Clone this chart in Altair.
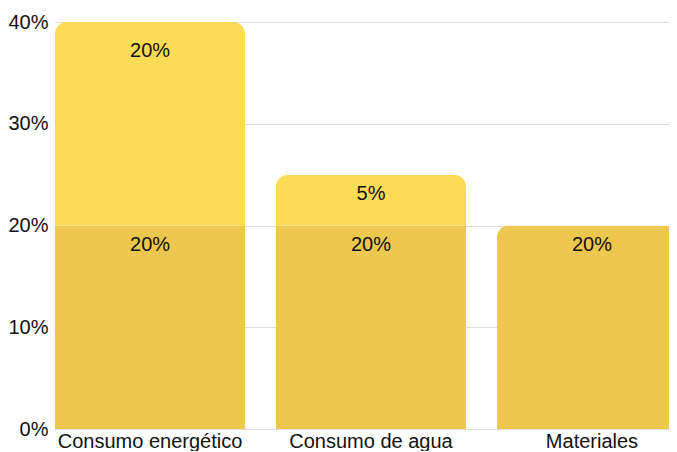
import altair as alt
import pandas as pd

categories = ["Consumo energético", "Consumo de agua", "Materiales"]
base_values = [20, 20, 20]
extra_values = [20, 5, 0]
segments = ["base", "extra"]
colors = ["#EDC74F", "#FEDB57"]

rows = []
for c, b, e in zip(categories, base_values, extra_values):
    rows.append({"cat": c, "seg": "base", "ord": 0, "value": b})
    if e > 0:
        rows.append({"cat": c, "seg": "extra", "ord": 1, "value": e})
df = pd.DataFrame(rows)

FONT = "Liberation Sans"

x = alt.X(
    "cat:N",
    sort=categories,
    title=None,
    scale=alt.Scale(paddingInner=0.14, paddingOuter=0),
    axis=alt.Axis(labelAngle=0, ticks=False, domain=False, labelFontSize=20,
                  labelFont=FONT, labelColor="#111", labelPadding=2, grid=False,
                  labelLimit=0),
)

base = alt.Chart(df)

bars = base.mark_bar(cornerRadiusEnd=12).encode(
    x=x,
    y=alt.Y(
        "value:Q",
        stack="zero",
        title=None,
        scale=alt.Scale(domain=[0, 40], nice=False),
        axis=alt.Axis(values=[0, 10, 20, 30, 40], labelExpr="datum.value + '%'",
                      ticks=False, domain=False, labelFontSize=20, labelFont=FONT,
                      labelColor="#111", labelPadding=7, gridColor="#dddddd"),
    ),
    color=alt.Color("seg:N", scale=alt.Scale(domain=segments, range=colors), legend=None),
    order=alt.Order("ord:Q"),
)

labels = base.transform_calculate(label="datum.value + '%'").transform_stack(
    stack="value", groupby=["cat"], sort=[alt.SortField("ord")], as_=["v0", "v1"]
)

text_low = labels.transform_filter("datum.v1 < 40").mark_text(
    baseline="middle", dy=19, fontSize=20, font=FONT, color="#111"
).encode(x=x, y=alt.Y("v1:Q"), text="label:N")

text_high = labels.transform_filter("datum.v1 >= 40").mark_text(
    baseline="middle", dy=29, fontSize=20, font=FONT, color="#111"
).encode(x=x, y=alt.Y("v1:Q"), text="label:N")

chart = alt.layer(bars, text_low, text_high).properties(
    width=632,
    height=407,
    autosize=alt.AutoSizeParams(type="none"),
    padding={"left": 47, "top": 14, "right": -18, "bottom": 22},
).configure_view(stroke=None)

chart.save("out.html", embed_options={"renderer": "svg", "actions": False})
